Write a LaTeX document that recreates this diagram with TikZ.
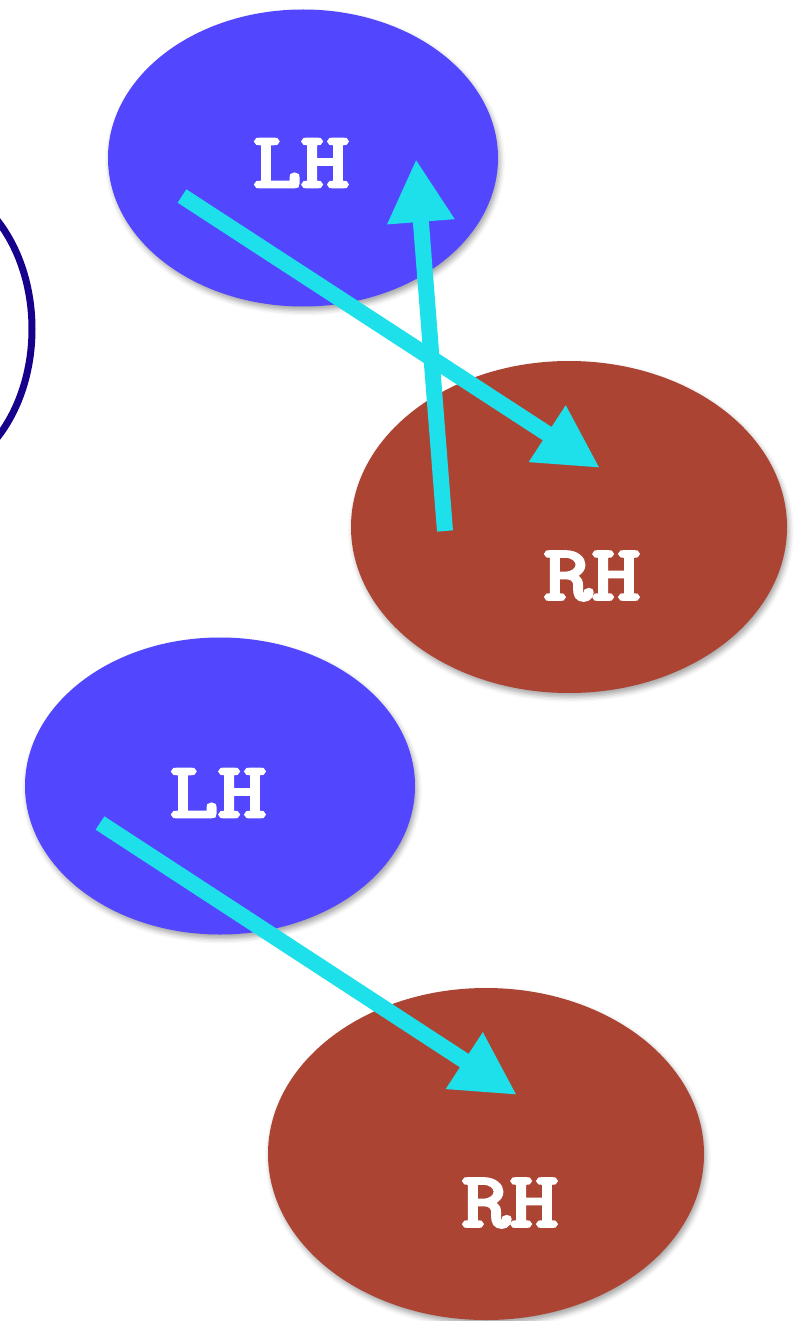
\documentclass[tikz,border=0pt]{standalone}
\usepackage{fontspec}
\newfontfamily\handfont{Latin Modern Mono}[FakeBold=4]
\usetikzlibrary{arrows.meta,shapes.geometric,shadows.blur}
\definecolor{lhblue}{RGB}{82,70,255}
\definecolor{rhred}{RGB}{172,68,52}
\definecolor{flow}{RGB}{30,224,234}
\definecolor{rimblue}{RGB}{22,0,140}
\newcommand{\handtext}[1]{\scalebox{1.2}[1]{#1}}
\tikzset{
  hand/.style={ellipse, inner sep=0pt, fill=#1, draw=none,
    blur shadow={shadow xshift=2pt, shadow yshift=-4pt,
      shadow blur radius=5pt, shadow opacity=35}},
  lefthand/.style={hand=lhblue, minimum width=390pt, minimum height=297pt},
  righthand/.style={hand=rhred, minimum width=436pt, minimum height=332pt},
  handlabel/.style={text=white, font=\handfont\fontsize{78}{78}\selectfont,
    inner sep=0pt, anchor=center},
  flowarrow/.style={draw=flow, line width=16pt,
    -{Triangle[length=63pt,width=63pt]}},
  rim/.style={draw=rimblue, line width=7pt}
}
\begin{document}
\begin{tikzpicture}[x=1pt,y=-1pt]
\useasboundingbox (0,0) rectangle (796,1321);
\begin{scope}
  \clip (0,0) rectangle (796,1321);
  % partial outline at the left border
  \draw[rim] (-80,329) ellipse [x radius=112, y radius=150];

  % upper pair
  \node[lefthand]  (lhA) at (303,158) {};
  \node[righthand] (rhA) at (569,527) {};
  % lower pair
  \node[lefthand]  (lhB) at (220,786) {};
  \node[righthand] (rhB) at (486,1154) {};

  \node[handlabel] (lhAtext) at (301,163) {\handtext{LH}};
  \node[handlabel] (rhAtext) at (592,576) {\handtext{RH}};
  \node[handlabel] (lhBtext) at (218,793) {\handtext{LH}};
  \node[handlabel] (rhBtext) at (510,1203) {\handtext{RH}};

  % arrow end points inside the ellipses
  \coordinate (aStart) at (182,196);
  \coordinate (aEnd)   at (600,468);
  \coordinate (bStart) at (445,531);
  \coordinate (bEnd)   at (416,159);
  \coordinate (cStart) at (100,823);
  \coordinate (cEnd)   at (517,1095);

  \draw[flowarrow] (aStart) -- (aEnd);
  \draw[flowarrow] (bStart) -- (bEnd);
  \draw[flowarrow] (cStart) -- (cEnd);
\end{scope}
\end{tikzpicture}
\end{document}
